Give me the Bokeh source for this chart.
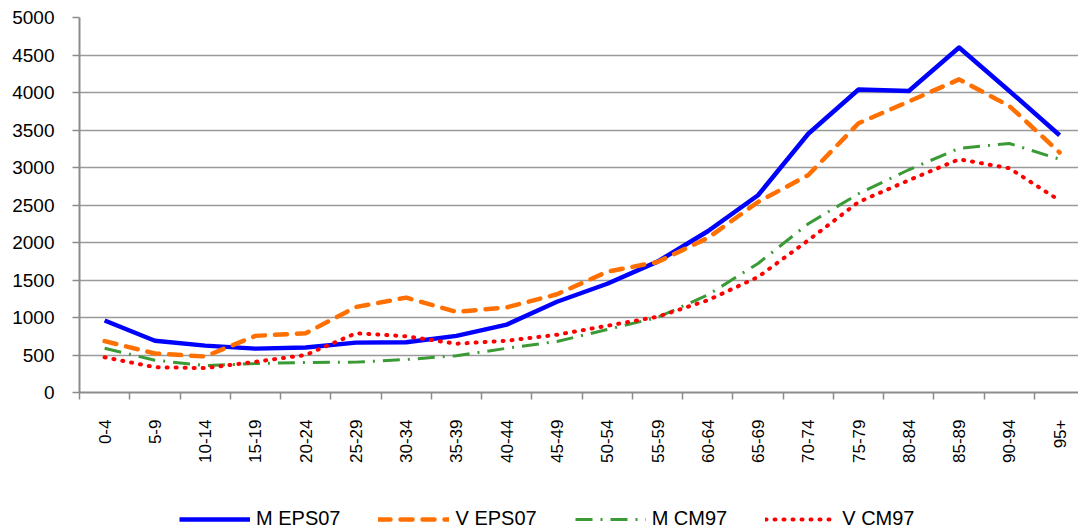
import math
from bokeh.plotting import figure
from bokeh.layouts import column
from bokeh.models import Range1d, FixedTicker, Legend, LegendItem
from bokeh.embed import file_html
from bokeh.resources import INLINE

age_groups = ["0-4", "5-9", "10-14", "15-19", "20-24", "25-29", "30-34", "35-39",
              "40-44", "45-49", "50-54", "55-59", "60-64", "65-69", "70-74", "75-79",
              "80-84", "85-89", "90-94", "95+"]
m_eps07 = [960, 690, 625, 585, 600, 665, 670, 755, 905, 1210, 1450, 1745, 2150, 2630,
           3450, 4040, 4020, 4600, 4020, 3430]
v_eps07 = [685, 520, 480, 755, 790, 1140, 1265, 1075, 1135, 1310, 1610, 1740, 2060, 2540,
           2900, 3590, 3880, 4175, 3820, 3200]
m_cm97 = [590, 430, 360, 385, 400, 405, 440, 490, 590, 680, 840, 1000, 1300, 1720,
          2250, 2650, 2970, 3255, 3320, 3110]
v_cm97 = [470, 338, 325, 410, 500, 790, 750, 650, 690, 770, 890, 1010, 1230, 1540,
          2030, 2540, 2830, 3110, 2990, 2560]
series_labels = ["M EPS07", "V EPS07", "M CM97", "V CM97"]
y_ticks = list(range(0, 5001, 500))

x = [i + 0.5 for i in range(len(age_groups))]
series = [m_eps07, v_eps07, m_cm97, v_cm97]
FONT = "Liberation Sans"
AXIS_GRAY = "#8c8c8c"

styles = [
    dict(line_color="#0000FF", line_width=4.5, line_join="round"),
    dict(line_color="#FF7000", line_width=4.5, line_dash="12 10", line_cap="round", line_join="round"),
    dict(line_color="#3A9A35", line_width=3, line_dash="17 8 2 8"),
    dict(line_color="#FF0000", line_width=4, line_dash="1 8", line_cap="round", line_join="round"),
]

p = figure(width=1078, height=493, output_backend="svg", toolbar_location=None,
           x_range=Range1d(0, 19.876), y_range=Range1d(0, 5000),
           min_border_left=79, min_border_right=0, min_border_top=17, min_border_bottom=101)
p.outline_line_color = None
p.background_fill_color = "white"
p.border_fill_color = "white"

p.xgrid.grid_line_color = None
p.ygrid.grid_line_color = "#9a9a9a"
p.ygrid.grid_line_width = 1.5
p.ygrid.ticker = FixedTicker(ticks=y_ticks)

# y axis
p.yaxis.ticker = FixedTicker(ticks=y_ticks)
p.yaxis.axis_line_color = AXIS_GRAY
p.yaxis.axis_line_width = 2
p.yaxis.major_tick_line_color = AXIS_GRAY
p.yaxis.major_tick_line_width = 1.5
p.yaxis.major_tick_out = 7
p.yaxis.major_tick_in = 0
p.yaxis.minor_tick_line_color = None
p.yaxis.major_label_standoff = 18
p.yaxis.major_label_text_font = FONT
p.yaxis.major_label_text_font_size = "19px"
p.yaxis.major_label_text_color = "black"

# x axis
p.xaxis.ticker = FixedTicker(ticks=x, minor_ticks=list(range(0, len(age_groups) + 1)))
p.xaxis.major_label_overrides = {xi: lab for xi, lab in zip(x, age_groups)}
p.xaxis.axis_line_color = AXIS_GRAY
p.xaxis.axis_line_width = 2
p.xaxis.major_tick_line_color = None
p.xaxis.major_tick_out = 7
p.xaxis.major_tick_in = 0
p.xaxis.minor_tick_line_color = AXIS_GRAY
p.xaxis.minor_tick_line_width = 1.5
p.xaxis.minor_tick_out = 7
p.xaxis.minor_tick_in = 0
p.xaxis.major_label_orientation = math.pi / 2
p.xaxis.major_label_standoff = 20
p.xaxis.major_label_text_font = FONT
p.xaxis.major_label_text_font_size = "17px"
p.xaxis.major_label_text_color = "black"

for ys, st in zip(series, styles):
    p.line(x, ys, **st)

# legend strip below the chart (its lines lie outside its view; only the legend shows)
lg = figure(width=1078, height=38, output_backend="svg", toolbar_location=None,
            x_range=Range1d(0, 1), y_range=Range1d(-2, -1),
            x_axis_type=None, y_axis_type=None, min_border=0)
lg.outline_line_color = None
lg.grid.visible = False
lg.background_fill_color = "white"
lg.border_fill_color = "white"
proxies = [lg.line(x, ys, **st) for ys, st in zip(series, styles)]

legend = Legend(items=[LegendItem(label=lab, renderers=[r])
                       for lab, r in zip(series_labels, proxies)],
                orientation="horizontal", location=(100, 1),
                glyph_width=71, glyph_height=20, label_height=20, label_standoff=6, spacing=38,
                padding=0, margin=0, border_line_color=None, background_fill_alpha=0,
                label_text_font=FONT, label_text_font_size="20px",
                label_text_color="black")
lg.add_layout(legend, "center")

layout = column(p, lg, spacing=0)
open("out.html", "w").write(file_html(layout, INLINE))
